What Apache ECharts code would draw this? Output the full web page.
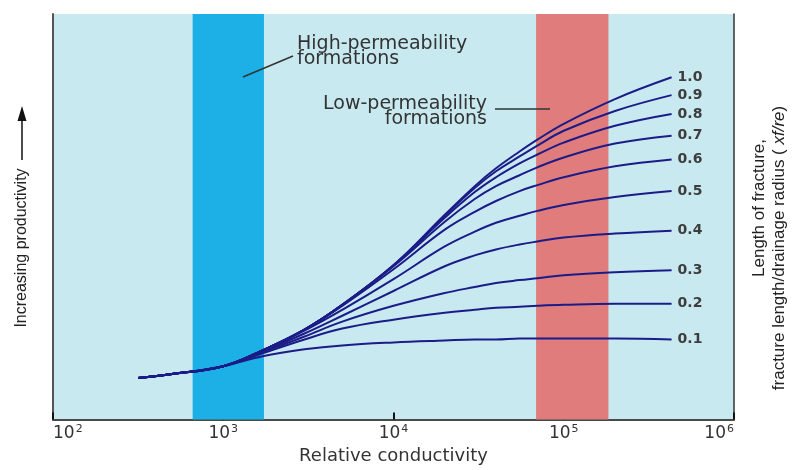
<!DOCTYPE html>
<html><head><meta charset="utf-8">
<script src="https://cdn.jsdelivr.net/npm/echarts@6/dist/echarts.min.js"></script>
<style>html,body{margin:0;padding:0;background:#fff}#c{width:796px;height:470px}</style>
</head><body><div id="c"></div>
<script>
// Relative conductivity sample points (x, log axis)
const conductivity = [316, 500, 1000, 1700, 3000, 5000, 10000, 20000, 30000, 40000, 55000, 70000, 100000, 200000, 430000];
// Productivity (arbitrary units) for each fracture length ratio xf/re
const ratio01 = [42, 46, 54, 64, 71, 75, 78, 80, 81, 81, 82, 82, 82, 82, 81];
const ratio02 = [42, 46, 54, 67, 81, 92, 101, 108, 111, 113, 114, 115, 116, 117, 117];
const ratio03 = [42, 46, 54, 68, 84, 99, 115, 128, 134, 138, 141, 143, 146, 149, 151];
const ratio04 = [42, 46, 54, 69, 87, 105, 130, 155, 166, 172, 177, 180, 184, 188, 191];
const ratio05 = [42, 46, 54, 70, 90, 111, 142, 175, 190, 199, 206, 211, 217, 225, 231];
const ratio06 = [42, 46, 54, 70, 91, 115, 152, 192, 210, 221, 231, 237, 245, 256, 263];
const ratio07 = [42, 46, 54, 70, 91, 116, 155, 200, 223, 236, 247, 255, 265, 279, 287];
const ratio08 = [42, 46, 54, 70, 91, 116, 156, 204, 230, 245, 259, 268, 280, 297, 309];
const ratio09 = [42, 46, 54, 70, 91, 116, 156, 206, 234, 251, 266, 277, 292, 312, 328];
const ratio10 = [42, 46, 54, 70, 91, 116, 156, 207, 236, 254, 271, 283, 299, 324, 346];
const curveLabels = ['0.1', '0.2', '0.3', '0.4', '0.5', '0.6', '0.7', '0.8', '0.9', '1.0'];
const curveValues = [ratio01, ratio02, ratio03, ratio04, ratio05, ratio06, ratio07, ratio08, ratio09, ratio10];
// Formation bands (relative conductivity ranges)
const highPermBand = [661, 1734];
const lowPermBand = [68800, 183000];
// X tick exponents
const tickExponents = [2, 3, 4, 5, 6];

const chart = echarts.init(document.getElementById('c'), null, {renderer: 'canvas'});

const lineSeries = curveValues.map((vals, k) => ({
  type: 'line',
  name: curveLabels[k],
  data: conductivity.map((x, i) => [x, vals[i]]),
  smooth: 0.4,
  showSymbol: false,
  silent: true,
  z: 3,
  lineStyle: {color: '#1c1c88', width: 2},
  endLabel: {
    show: true,
    formatter: curveLabels[k],
    distance: 6,
    color: '#3d3d3d',
    fontSize: 14,
    fontWeight: 'bold',
    fontFamily: 'DejaVu Sans'
  }
}));

const bandSeries = {
  type: 'line',
  data: [],
  z: 1,
  silent: true,
  markArea: {
    silent: true,
    data: [
      [{xAxis: highPermBand[0], itemStyle: {color: '#1cb0e6'}}, {xAxis: highPermBand[1]}],
      [{xAxis: lowPermBand[0], itemStyle: {color: '#e07c7c'}}, {xAxis: lowPermBand[1]}]
    ]
  }
};

chart.setOption({
  animation: false,
  backgroundColor: '#ffffff',
  grid: {left: 53, right: 62, top: 14, bottom: 46, show: true, backgroundColor: '#c8e9f0', borderWidth: 0},
  xAxis: {
    type: 'log', logBase: 10, min: 100, max: 1000000,
    axisLine: {lineStyle: {color: '#4a4a4a', width: 2}},
    axisTick: {inside: true, length: 7, lineStyle: {color: '#111', width: 2}},
    splitLine: {show: false},
    minorTick: {show: false},
    axisLabel: {
      margin: 4,
      alignMinLabel: 'left',
      alignMaxLabel: 'right',
      formatter: v => {
        const e = Math.round(Math.log10(v));
        return tickExponents.indexOf(e) >= 0 ? '{b|10}{s|' + e + '}' : '';
      },
      rich: {
        b: {fontSize: 17, fontFamily: 'DejaVu Sans', color: '#333', lineHeight: 20},
        s: {fontSize: 11, fontFamily: 'DejaVu Sans', color: '#333', lineHeight: 12, verticalAlign: 'top', padding: [0, 0, 0, 1]}
      }
    },
    name: 'Relative conductivity',
    nameLocation: 'middle',
    nameGap: 26,
    nameTextStyle: {fontSize: 18, color: '#333', fontFamily: 'DejaVu Sans'}
  },
  yAxis: [
    {type: 'value', min: 0, max: 410, axisLine: {show: true, lineStyle: {color: '#555', width: 2}},
     axisTick: {show: false}, axisLabel: {show: false}, splitLine: {show: false}},
    {type: 'value', position: 'right', min: 0, max: 410, axisLine: {show: true, lineStyle: {color: '#333', width: 1.5}},
     axisTick: {show: false}, axisLabel: {show: false}, splitLine: {show: false}}
  ],
  series: [bandSeries].concat(lineSeries),
  graphic: [
    {type: 'line', shape: {x1: 22, y1: 160, x2: 22, y2: 118}, style: {stroke: '#111', lineWidth: 1.5}, z: 10},
    {type: 'polygon', shape: {points: [[22, 106], [17.5, 121], [26.5, 121]]}, style: {fill: '#111'}, z: 10},
    {type: 'text', x: 22, y: 248, rotation: Math.PI / 2, z: 10,
     style: {text: 'Increasing productivity', fontSize: 16, fontFamily: 'Liberation Sans', fill: '#222', align: 'center', verticalAlign: 'middle'}},
    {type: 'text', x: 759, y: 208, rotation: Math.PI / 2, z: 10,
     style: {text: 'Length of fracture,', fontSize: 17, fontFamily: 'Liberation Sans', fill: '#222', align: 'center', verticalAlign: 'middle'}},
    {type: 'text', x: 779, y: 248, rotation: Math.PI / 2, z: 10,
     style: {text: 'fracture length/drainage radius ( {i|xf/re})', fontSize: 17, fontFamily: 'Liberation Sans', fill: '#222', align: 'center', verticalAlign: 'middle',
       rich: {i: {fontStyle: 'italic', fontSize: 17, fontFamily: 'Liberation Sans', fill: '#222'}}}},
    {type: 'text', x: 297, y: 52, z: 10,
     style: {text: 'High-permeability\nformations', fontSize: 19, lineHeight: 15, fontFamily: 'DejaVu Sans', fill: '#333', align: 'left', verticalAlign: 'middle'}},
    {type: 'text', x: 487, y: 112, z: 10,
     style: {text: 'Low-permeability\nformations', fontSize: 19, lineHeight: 15, fontFamily: 'DejaVu Sans', fill: '#333', align: 'right', verticalAlign: 'middle'}},
    {type: 'line', shape: {x1: 243, y1: 77, x2: 293, y2: 56}, style: {stroke: '#333', lineWidth: 1.5}, z: 10},
    {type: 'line', shape: {x1: 495, y1: 109, x2: 550, y2: 109}, style: {stroke: '#333', lineWidth: 1.5}, z: 10}
  ]
});
</script>
</body></html>
